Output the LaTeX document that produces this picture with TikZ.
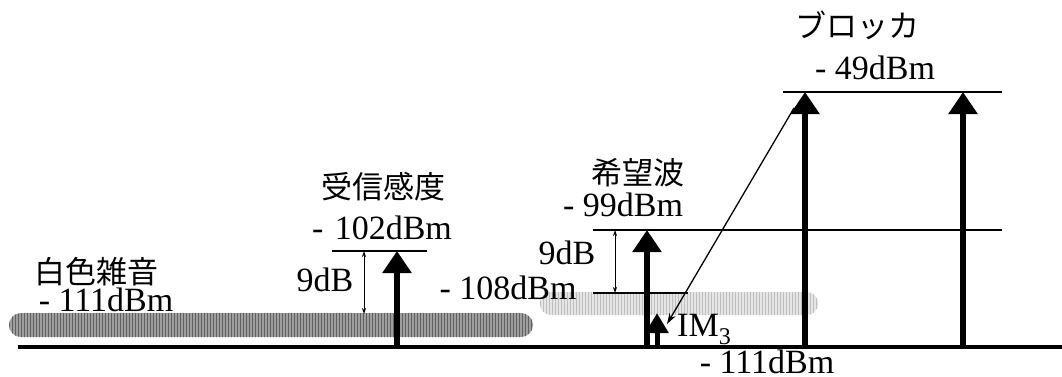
\documentclass[tikz,border=0pt]{standalone}
\usepackage{fontspec}
\setmainfont{Liberation Serif}
\newfontfamily\jp{Noto Sans CJK JP}
\usetikzlibrary{arrows.meta,patterns}
\begin{document}
\begin{tikzpicture}[x=1pt,y=-1pt,
  lbl/.style={font=\fontsize{34}{38}\selectfont, inner sep=0pt},
  jlbl/.style={font=\jp\fontsize{31}{34}\selectfont, inner sep=0pt},
  bigarrow/.style={line width=6pt, -{Triangle[width=28pt,length=22pt]}},
  smallarrow/.style={line width=5pt, -{Triangle[width=22pt,length=20pt]}},
  dimarrow/.style={line width=0.8pt, {Stealth[length=6pt,width=4pt]}-{Stealth[length=6pt,width=4pt]}},
  level/.style={line width=1.5pt},
  noise/.style={rounded corners=12pt, draw=none}
]
\useasboundingbox (0,0) rectangle (1062,376);

% noise floors
\fill[noise, fill=black!38] (9,313) rectangle (533,337);
\fill[noise, pattern=vertical lines, pattern color=black!62] (9,313) rectangle (533,337);
\fill[noise, fill=black!10, rounded corners=11pt] (540,292) rectangle (818,315);
\fill[noise, pattern=vertical lines, pattern color=black!25, rounded corners=11pt] (540,292) rectangle (818,315);

% baseline
\coordinate (axL) at (18,347);
\coordinate (axR) at (1062,347);
\draw[line width=4pt] (axL) -- (axR);

% level lines
\coordinate (s1) at (332,251); \coordinate (s2) at (427,251);
\coordinate (w1) at (593,230); \coordinate (w2) at (1002,230);
\coordinate (m1) at (593,293); \coordinate (m2) at (688,293);
\coordinate (k1) at (783,92);  \coordinate (k2) at (1002,92);
\draw[level] (s1) -- (s2);
\draw[level] (w1) -- (w2);
\draw[level] (m1) -- (m2);
\draw[level] (k1) -- (k2);

% sensitivity arrow
\coordinate (sb) at (397,347); \coordinate (st) at (397,251);
\draw[bigarrow] (sb) -- (st);

% desired wave arrow
\coordinate (db) at (647,347); \coordinate (dt) at (647,230);
\draw[bigarrow] (db) -- (dt);

% IM3 arrow
\coordinate (ib) at (657,347); \coordinate (it) at (657,313);
\draw[smallarrow] (ib) -- (it);

% blocker arrows
\coordinate (b1b) at (805,347); \coordinate (b1t) at (805,92);
\coordinate (b2b) at (963,347); \coordinate (b2t) at (963,92);
\draw[bigarrow] (b1b) -- (b1t);
\draw[bigarrow] (b2b) -- (b2t);

% dimension arrows
\coordinate (d1t) at (364,251); \coordinate (d1b) at (364,314);
\draw[dimarrow] (d1t) -- (d1b);
\coordinate (d2t) at (615,230); \coordinate (d2b) at (615,293);
\draw[dimarrow] (d2t) -- (d2b);

% diagonal arrow from blocker to IM3
\coordinate (gs) at (794,108); \coordinate (ge) at (667,324);
\draw[line width=1.3pt, -{Stealth[length=11pt,width=7pt]}] (gs) -- (ge);

% labels
\node[jlbl] (tNoise) at (96,272) {白色雑音};
\node[lbl] (vNoise) at (106,300) {- 111dBm};
\node[lbl] (dB1) at (325,280) {9dB};
\node[jlbl] (tSens) at (383,187) {受信感度};
\node[lbl] (vSens) at (382,228) {-\,\,102dBm};
\node[jlbl] (tWish) at (638,173) {希望波};
\node[lbl] (vWish) at (623,205) {- 99dBm};
\node[lbl] (dB2) at (567,253) {9dB};
\node[lbl] (v108) at (508,288) {- 108dBm};
\node[lbl, anchor=base west] (im3) at (677,336) {IM\raisebox{-8pt}{\fontsize{24}{24}\selectfont 3}};
\node[jlbl] (tBlk) at (857,25) {ブロッカ};
\node[lbl] (vBlk) at (875,68) {- 49dBm};
\node[lbl, anchor=base] (vBase) at (767,373) {- 111dBm};
\end{tikzpicture}
\end{document}
